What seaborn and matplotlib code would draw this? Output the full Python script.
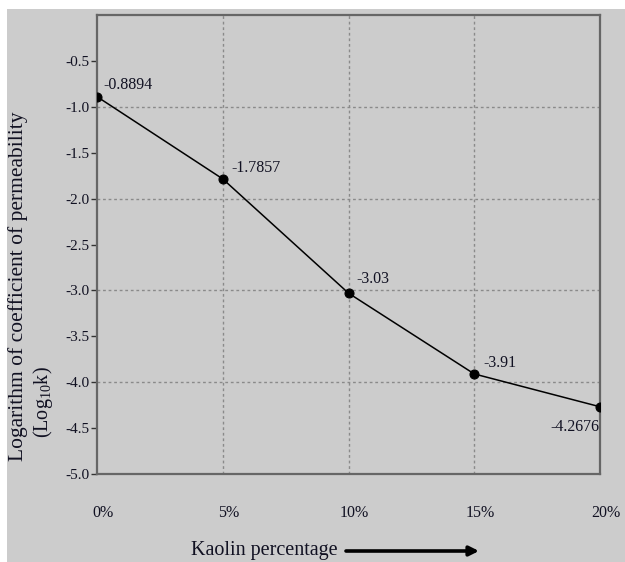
import matplotlib
matplotlib.use("Agg")
import matplotlib.pyplot as plt
import matplotlib.transforms as mtransforms
from matplotlib.patches import Rectangle
import seaborn as sns
import pandas as pd

# Kaolin content (%) and measured log10 of permeability coefficient
kaolin_pct = [0, 5, 10, 15, 20]
log_k = [-0.8894, -1.7857, -3.03, -3.91, -4.2676]
value_labels = ["-0.8894", "-1.7857", "-3.03", "-3.91", "-4.2676"]
x_tick_labels = ["0%", "5%", "10%", "15%", "20%"]
y_ticks = [-5.0, -4.5, -4.0, -3.5, -3.0, -2.5, -2.0, -1.5, -1.0, -0.5]

df = pd.DataFrame({"kaolin": kaolin_pct, "logk": log_k})

sns.set_theme(style="white")
plt.rcParams["font.family"] = ["Liberation Serif", "DejaVu Serif"]
plt.rcParams["mathtext.fontset"] = "custom"
plt.rcParams["mathtext.rm"] = "Liberation Serif"

txt = "#111122"
bg = "#cccccc"

fig = plt.figure(figsize=(6.25, 5.62), dpi=100, facecolor="white")
fig.patches.append(Rectangle((7 / 625, 0), 1 - 7 / 625, 1 - 9 / 562,
                             transform=fig.transFigure, facecolor=bg,
                             edgecolor="none", zorder=-10))
ax = fig.add_axes([97 / 625, 1 - 474 / 562, 503 / 625, 459 / 562])
ax.set_facecolor(bg)

# dotted reference grid
for gx in [5, 10, 15]:
    ax.axvline(gx, color="#8a8a8a", lw=1.0, ls=(0, (2, 2)), zorder=1)
for gy in [-1, -2, -3, -4]:
    ax.axhline(gy, color="#8a8a8a", lw=1.0, ls=(0, (2, 2)), zorder=1)

sns.lineplot(data=df, x="kaolin", y="logk", ax=ax, color="black", lw=1.1,
             marker="o", markersize=6.5, markeredgecolor="black",
             markerfacecolor="black", zorder=3)

offsets = [(4.5, 8.5, "left", "center"), (6.5, 8, "left", "center"),
           (6, 10, "left", "center"), (6.5, 8, "left", "center"),
           (-0.5, -14.5, "right", "center")]
for xv, yv, lab, (dx, dy, ha, va) in zip(kaolin_pct, log_k, value_labels, offsets):
    ax.annotate(lab, xy=(xv, yv), xytext=(dx, dy), textcoords="offset points",
                ha=ha, va=va, fontsize=11.5, color=txt, zorder=4)

ax.set_xlim(0, 20)
ax.set_ylim(-5, 0)
ax.set_xticks(kaolin_pct)
ax.set_xticklabels(x_tick_labels)
ax.set_yticks(y_ticks)
ax.set_yticklabels([f"{v:.1f}" for v in y_ticks])
ax.tick_params(axis="y", which="major", direction="out", length=4, width=1,
               color="#333333", pad=1.5, labelsize=11, labelcolor=txt, left=True)
ax.tick_params(axis="x", which="major", length=0, pad=22, labelsize=11.5,
               labelcolor=txt, bottom=True)
shift = mtransforms.ScaledTranslation(6 / 100, 0, fig.dpi_scale_trans)
for lbl in ax.get_xticklabels():
    lbl.set_transform(lbl.get_transform() + shift)

ax.set_xlabel("")
ax.set_ylabel("")
for side in ["left", "bottom", "top", "right"]:
    ax.spines[side].set_visible(True)
    ax.spines[side].set_color("#666666")
    ax.spines[side].set_linewidth(1.6)

# axis titles
fig.text(191 / 625, 1 - 550 / 562, "Kaolin percentage", ha="left", va="center",
         fontsize=14.5, color=txt)
fig.text(18 / 625, 1 - 286 / 562, "Logarithm of coefficient of permeability",
         rotation=90, ha="center", va="center", fontsize=15.5, color=txt)
fig.text(43 / 625, 1 - 402 / 562, r"(Log$_{10}$k)", rotation=90,
         ha="center", va="center", fontsize=14.5, color=txt)
ax.annotate("", xy=(479, 562 - 551), xytext=(346, 562 - 551),
            xycoords="figure pixels", textcoords="figure pixels",
            arrowprops=dict(arrowstyle="-|>", lw=2.6, color="black",
                            mutation_scale=14, shrinkA=0, shrinkB=0))

fig.savefig("out.png", dpi=100, facecolor="white")
